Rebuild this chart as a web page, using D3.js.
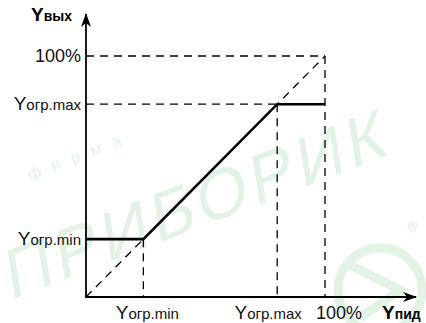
<!DOCTYPE html>
<html><head><meta charset="utf-8">
<script src="https://cdn.jsdelivr.net/npm/d3@7"></script>
<style>body{margin:0;background:#fff}svg{display:block}</style>
</head><body>
<svg id="c" width="426" height="323"></svg>
<script>
// Data (percent)
const yMin = 24;      // Yогр.min
const yMax = 80;      // Yогр.max
const full = 100;
const xTickValues = [yMin, yMax, full];
const xTickLabels = [["Y","огр.min"],["Y","огр.max"],["","100%"]];
const yTickValues = [yMin, yMax, full];
const yTickLabels = [["Y","огр.min"],["Y","огр.max"],["","100%"]];
const transfer = [[0,yMin],[yMin,yMin],[yMax,yMax],[full,yMax]];

const svg = d3.select("#c");
const x = d3.scaleLinear().domain([0,100]).range([86,325]);
const y = d3.scaleLinear().domain([0,100]).range([297,56]);
const font = "'Liberation Sans', Arial, sans-serif";

// watermark
const wm = svg.append("g").attr("fill","#e2f3e5");
wm.append("text").attr("transform","translate(10,300) rotate(-21) skewX(-12)")
  .attr("font-family",font).attr("font-size",68)
  .attr("textLength",405).attr("lengthAdjust","spacing").text("ПРИБОРИК");
wm.append("text").attr("transform","translate(30,180) rotate(-21)")
  .attr("font-family",font).attr("font-size",16).attr("letter-spacing",12).text("фирма");
svg.append("circle").attr("cx",380).attr("cy",290).attr("r",42)
  .attr("fill","none").attr("stroke","#e2f3e5").attr("stroke-width",9);
svg.append("path").attr("d","M350,265 L400,290 L360,318").attr("fill","none")
  .attr("stroke","#e2f3e5").attr("stroke-width",9);
wm.append("text").attr("transform","translate(410,232) rotate(-30)")
  .attr("font-family",font).attr("font-size",13).text("ф");

// defs arrow
svg.append("defs").append("marker").attr("id","arr").attr("viewBox","0 0 14 10")
  .attr("refX",13).attr("refY",5).attr("markerWidth",14).attr("markerHeight",10)
  .attr("markerUnits","userSpaceOnUse").attr("orient","auto")
  .append("path").attr("d","M0,0 L14,5 L0,10 L4,5 Z").attr("fill","#000");

// dashed guides
const dash = svg.append("g").attr("stroke","#000").attr("stroke-width",1.3)
  .attr("stroke-dasharray","8,6").attr("fill","none");
const guides = [
  [[0,0],[full,full]],
  [[0,full],[full,full]],
  [[full,full],[full,0]],
  [[0,yMax],[yMax,yMax]],
  [[yMax,yMax],[yMax,0]],
  [[yMin,yMin],[yMin,0]]
];
guides.forEach(g=>dash.append("line")
  .attr("x1",x(g[0][0])).attr("y1",y(g[0][1])).attr("x2",x(g[1][0])).attr("y2",y(g[1][1])));

// transfer characteristic
svg.append("path").datum(transfer)
  .attr("d",d3.line().x(d=>x(d[0])).y(d=>y(d[1])))
  .attr("fill","none").attr("stroke","#000").attr("stroke-width",2.6).attr("stroke-linejoin","miter");

// axes
svg.append("line").attr("x1",x(0)).attr("y1",y(0)+1).attr("x2",x(0)).attr("y2",14)
  .attr("stroke","#000").attr("stroke-width",1.8).attr("marker-end","url(#arr)");
svg.append("line").attr("x1",x(0)-1).attr("y1",y(0)).attr("x2",416).attr("y2",y(0))
  .attr("stroke","#000").attr("stroke-width",1.8).attr("marker-end","url(#arr)");

// tick labels
function lab(g, parts, bigSize, smallSize){
  if(parts[0]) g.append("tspan").attr("font-size",bigSize).text(parts[0]);
  g.append("tspan").attr("font-size",parts[0]?smallSize:bigSize-1).text(parts[1]);
}
yTickValues.forEach((v,i)=>{
  const t = svg.append("text").attr("x",81).attr("y",y(v)+6).attr("text-anchor","end")
    .attr("font-family",font).attr("fill","#111");
  lab(t, yTickLabels[i], 19, 15);
});
const xOff = [4,-9,14];
xTickValues.forEach((v,i)=>{
  const t = svg.append("text").attr("x",x(v)+xOff[i]).attr("y",319).attr("text-anchor","middle")
    .attr("font-family",font).attr("fill","#111");
  lab(t, xTickLabels[i], 19, 15);
});

// axis titles
const ty = svg.append("text").attr("x",31).attr("y",21).attr("font-family",font)
  .attr("font-weight","bold").attr("fill","#000");
ty.append("tspan").attr("font-size",19).text("Y");
ty.append("tspan").attr("font-size",14).text("вых");
const tx = svg.append("text").attr("x",382).attr("y",319).attr("font-family",font)
  .attr("font-weight","bold").attr("fill","#000");
tx.append("tspan").attr("font-size",19).text("Y");
tx.append("tspan").attr("font-size",14).text("пид");
</script>
</body></html>
